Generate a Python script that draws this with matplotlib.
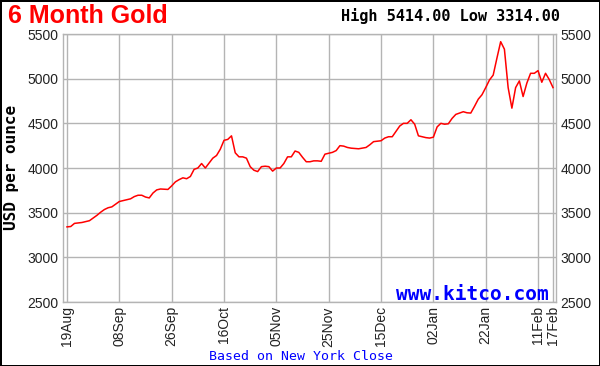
import matplotlib
matplotlib.use("Agg")
import matplotlib.pyplot as plt

# daily New York close, one value per trading day (19Aug .. 17Feb)
prices = [
    3341, 3345, 3380, 3385, 3390, 3400, 3410, 3440, 3470, 3505,
    3535, 3555, 3565, 3595, 3625, 3635, 3645, 3655, 3680, 3695,
    3695, 3675, 3665, 3720, 3755, 3765, 3762, 3760, 3800, 3845,
    3870, 3890, 3880, 3905, 3985, 4000, 4050, 4000, 4055, 4110,
    4140, 4210, 4310, 4320, 4360, 4170, 4125, 4125, 4110, 4015,
    3975, 3960, 4015, 4020, 4015, 3965, 4000, 4000, 4050, 4125,
    4125, 4190, 4175, 4120, 4070, 4070, 4080, 4080, 4075, 4155,
    4165, 4175, 4195, 4250, 4245, 4230, 4222, 4218, 4215, 4222,
    4230, 4260, 4295, 4300, 4305, 4335, 4350, 4350, 4410, 4470,
    4500, 4500, 4540, 4490, 4360, 4350, 4340, 4335, 4345, 4460,
    4500, 4490, 4495, 4555, 4600, 4615, 4630, 4618, 4615, 4690,
    4770, 4820, 4900, 4985, 5040, 5230, 5414, 5330, 4900, 4670,
    4900, 4975, 4800, 4950, 5060, 5060, 5090, 4960, 5060, 4990,
    4900,
]
tick_pos = [0, 14, 28, 42, 56, 70, 84, 98, 112, 126, 130]
tick_labels = ['19Aug', '08Sep', '26Sep', '16Oct', '05Nov', '25Nov',
               '15Dec', '02Jan', '22Jan', '11Feb', '17Feb']
y_ticks = [2500, 3000, 3500, 4000, 4500, 5000, 5500]
high, low = 5414.00, 3314.00

fig = plt.figure(figsize=(6, 3.66), dpi=100)
fig.patch.set_facecolor('white')
fig.patch.set_edgecolor('black')
fig.patch.set_linewidth(2)

ax = fig.add_axes([63 / 600, 1 - 302 / 366, 493 / 600, 268 / 366])
days = list(range(len(prices)))
ax.plot(days, prices, color='#ff0000', lw=1.1, zorder=3)

ax.set_xlim(-1.07, 130.8)
ax.set_ylim(2500, 5500)
ax.set_yticks(y_ticks)
ax.set_xticks(tick_pos)
ax.set_xticklabels(tick_labels, rotation=90, fontfamily='Liberation Sans',
                   fontsize=10, color='#222222')
ax.set_yticklabels([str(v) for v in y_ticks], fontfamily='Liberation Sans',
                   fontsize=10, color='#222222')
ax.tick_params(axis='both', length=0)
ax.tick_params(axis='y', labelright=True, pad=3)
ax.tick_params(axis='x', pad=3)
ax.grid(color='#b4b4b4', linestyle='-', linewidth=1.0)
for sp in ax.spines.values():
    sp.set_color('#b4b4b4')
    sp.set_linewidth(1.0)

ax.text(0.985, 0.028, 'www.kitco.com', transform=ax.transAxes, ha='right',
        va='center', fontfamily='DejaVu Sans Mono', fontweight='bold',
        fontsize=14, color='#0000ff', zorder=4)

fig.text(8 / 600, 1 - 16 / 366, '6 Month Gold', ha='left', va='center',
         fontfamily='Liberation Sans', fontweight='bold', fontsize=18,
         color='#ff0000')
fig.text(560 / 600, 1 - 16 / 366, 'High %.2f Low %.2f' % (high, low),
         ha='right', va='center', fontfamily='DejaVu Sans Mono',
         fontweight='bold', fontsize=11, color='black')
fig.text(12 / 600, 1 - 167 / 366, 'USD per ounce', rotation=90, ha='center',
         va='center', fontfamily='DejaVu Sans Mono', fontweight='bold',
         fontsize=11.5, color='black')
fig.text(301 / 600, 1 - 357 / 366, 'Based on New York Close', ha='center',
         va='center', fontfamily='DejaVu Sans Mono', fontsize=9.5,
         color='#0000ff')

plt.savefig('out.png', dpi=100)
